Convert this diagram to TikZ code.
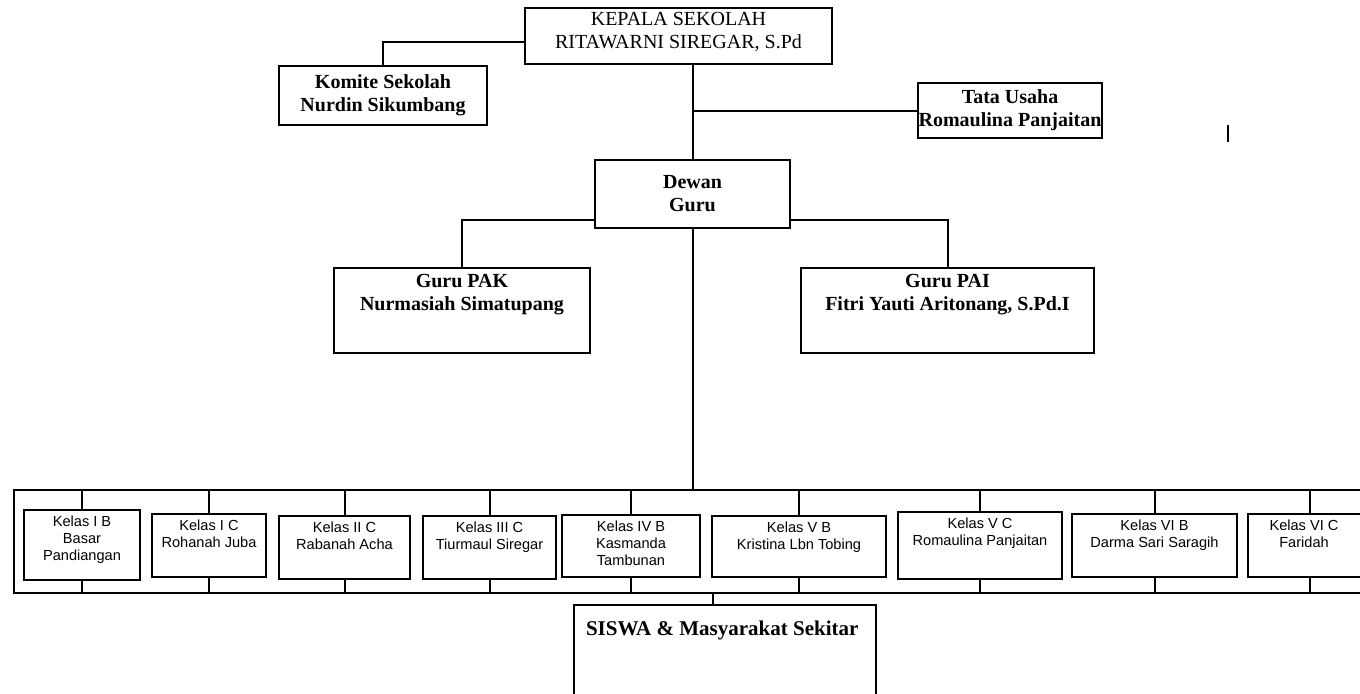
\documentclass[tikz,border=0pt]{standalone}
\usepackage{fontspec}
\setmainfont{Liberation Serif}
\setsansfont{Liberation Sans}
\usetikzlibrary{fit}
\begin{document}
\begin{tikzpicture}[x=0.5pt,y=-0.5pt,line width=1pt]
	\tikzstyle{box}=[draw,inner sep=0pt]
	\tikzstyle{head}=[inner sep=3pt,font=\fontsize{10}{11.5}\selectfont\bfseries,align=center]
	\tikzstyle{kbox}=[draw,inner sep=0pt]
	\tikzstyle{ktext}=[below,inner sep=3pt,font=\sffamily\fontsize{7.3}{8.5}\selectfont,align=center]
	\useasboundingbox (0,0) rectangle (1360,693);
	% top
	\node[box,fit={(525,8) (832,64)}] (kepala) {};
	\node[head,font=\fontsize{10}{11.5}\selectfont,yshift=2pt] at (kepala.center) {KEPALA SEKOLAH\\RITAWARNI SIREGAR, S.Pd};
	\node[box,fit={(279,66) (487,125)}] (komite) {};
	\node[head] at (komite.center) {Komite Sekolah\\Nurdin Sikumbang};
	\node[box,fit={(918,83) (1102,138)}] (tata) {};
	\node[head] at (tata.center) {Tata Usaha\\Romaulina Panjaitan};
	\node[box,fit={(595,160) (790,228)}] (dewan) {};
	\node[head] at (dewan.center) {Dewan\\Guru};
	\node[box,fit={(334,268) (590,353)}] (pak) {};
	\node[head,below] at (pak.north) {Guru PAK\\Nurmasiah Simatupang};
	\node[box,fit={(801,268) (1094,353)}] (pai) {};
	\node[head,below] at (pai.north) {Guru PAI\\Fitri Yauti Aritonang, S.Pd.I};
	\draw (1228,125) -- (1228,142);
	\draw ([yshift=-3pt]kepala.west) -| (komite.north);
	\draw (kepala.south -| dewan.north) -- (dewan.north);
	\draw (tata.west) -- (tata.west -| dewan.north);
	\draw ([yshift=-13pt]dewan.west) -| (pak.north);
	\draw ([yshift=-13pt]dewan.east) -| (pai.north);
	% kelas
	\coordinate (bt) at (14,490);
	\coordinate (bb) at (14,593);
	\coordinate (btr) at (1360,490);
	\coordinate (bbr) at (1360,593);
	\draw (btr) -- (bt) -- (bb) -- (bbr);
	\draw (dewan.south) -- (dewan.south |- bt);
	\node[kbox,fit={(24,510) (140,580)}] (k1) {};
	\node[ktext] at (k1.north) {Kelas I B\\Basar\\Pandiangan};
	\node[kbox,fit={(152,514) (266,577)}] (k2) {};
	\node[ktext] at (k2.north) {Kelas I C\\Rohanah Juba};
	\node[kbox,fit={(279,516) (410,579)}] (k3) {};
	\node[ktext] at (k3.north) {Kelas II C\\Rabanah Acha};
	\node[kbox,fit={(423,516) (556,579)}] (k4) {};
	\node[ktext] at (k4.north) {Kelas III C\\Tiurmaul Siregar};
	\node[kbox,fit={(562,515) (700,577)}] (k5) {};
	\node[ktext] at (k5.north) {Kelas IV B\\Kasmanda\\Tambunan};
	\node[kbox,fit={(712,516) (886,577)}] (k6) {};
	\node[ktext] at (k6.north) {Kelas V B\\Kristina Lbn Tobing};
	\node[kbox,fit={(898,512) (1062,579)}] (k7) {};
	\node[ktext] at (k7.north) {Kelas V C\\Romaulina Panjaitan};
	\node[kbox,fit={(1072,514) (1237,577)}] (k8) {};
	\node[ktext] at (k8.north) {Kelas VI B\\Darma Sari Saragih};
	\node[kbox,fit={(1248,514) (1372,577)}] (k9) {};
	\node[ktext,xshift=-3pt] at (k9.north) {Kelas VI C\\Faridah};
	\draw (k1.north) -- (k1.north |- bt);  \draw (k1.south) -- (k1.south |- bb);
	\draw (k2.north) -- (k2.north |- bt);  \draw (k2.south) -- (k2.south |- bb);
	\draw (k3.north) -- (k3.north |- bt);  \draw (k3.south) -- (k3.south |- bb);
	\draw (k4.north) -- (k4.north |- bt);  \draw (k4.south) -- (k4.south |- bb);
	\draw (k5.north) -- (k5.north |- bt);  \draw (k5.south) -- (k5.south |- bb);
	\draw (k6.north) -- (k6.north |- bt);  \draw (k6.south) -- (k6.south |- bb);
	\draw (k7.north) -- (k7.north |- bt);  \draw (k7.south) -- (k7.south |- bb);
	\draw (k8.north) -- (k8.north |- bt);  \draw (k8.south) -- (k8.south |- bb);
	\draw (k9.north) -- (k9.north |- bt);  \draw (k9.south) -- (k9.south |- bb);
	% siswa
	\node[box,fit={(574,605) (876,705)}] (siswa) {};
	\node[anchor=north west,inner sep=0pt,font=\fontsize{10.5}{12}\selectfont\bfseries] at ([xshift=6pt,yshift=-8pt]siswa.north west) {SISWA \& Masyarakat Sekitar};
	\draw ([xshift=-6pt]siswa.north) -- ([xshift=-6pt]siswa.north |- bb);
\end{tikzpicture}
\end{document}
